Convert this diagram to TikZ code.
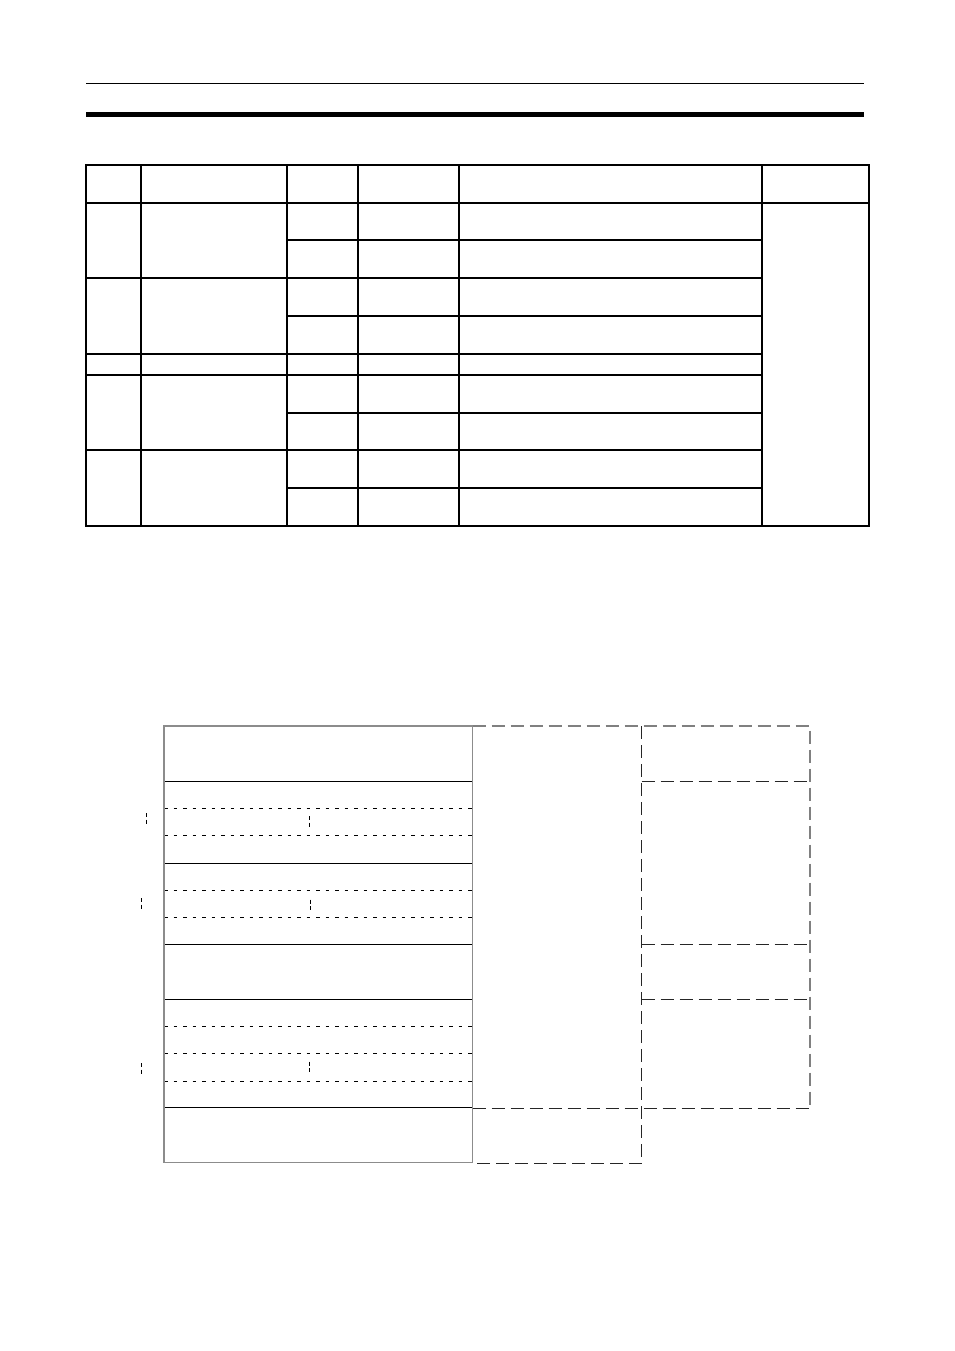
\documentclass[tikz,border=0pt]{standalone}
\usetikzlibrary{calc}
\tikzstyle{every path}=[line cap=butt, line join=miter]
\tikzset{
  borde/.style={line width=2.6pt},
  linea/.style={line width=1.3pt},
  fina/.style={line width=0.9pt},
  punteada/.style={line width=0.9pt, dash pattern=on 3.5pt off 6pt},
  corte/.style={line width=0.9pt, dash pattern=on 4pt off 2.5pt},
  rayada/.style={line width=1pt, black!85, dash pattern=on 13pt off 6pt},
  rayadagris/.style={line width=1.1pt, black!50, dash pattern=on 13pt off 6pt},
  marco/.style={line width=1.3pt, black!45},
}
\begin{document}
\begin{tikzpicture}[x=1pt,y=-1pt]
        \useasboundingbox (0,0) rectangle (954,1351);
        %encabezado
        \draw[line width=1pt] (86,84) -- (864,84);
        \fill (86,112) rectangle (864,117);
        %tabla: columnas
        \foreach \x in {141,287,358,459,762}
            \draw[linea] (\x,165) -- (\x,526);
        %tabla: filas de grupo
        \foreach \y in {278,354,375,450}
            \draw[linea] (86,\y) -- (762,\y);
        %tabla: subfilas
        \foreach \y in {240,316,413,488}
            \draw[linea] (287,\y) -- (762,\y);
        \draw[borde] (86,203) -- (869,203);
        \draw[borde] (86,165) rectangle (869,526);
        %bloques solidos
        \foreach \y in {781,863,944,999,1107.5}
            \draw[fina] (164,\y) -- (472.5,\y);
        %lineas punteadas
        \foreach \y in {808,835,890,917,1026,1053,1081}
            \draw[punteada] (164,\y) -- (472.5,\y);
        %marcas de corte
        \draw[corte] (146.5,813) -- (146.5,824);
        \draw[corte] (309.7,816) -- (309.7,827);
        \draw[corte] (141.5,898) -- (141.5,909);
        \draw[corte] (310,899.5) -- (310,910.5);
        \draw[corte] (141.5,1063) -- (141.5,1074);
        \draw[corte] (309.7,1061.5) -- (309.7,1072.5);
        %marco
        \draw[marco] (164,726) rectangle (472.5,1162.5);
        %areas rayadas
        \draw[rayadagris] (472.5,726) -- (810,726) -- (810,1108);
        \draw[rayada] (641.5,726) -- (641.5,1163) -- (472.5,1163);
        \draw[rayada] (472.5,1108) -- (810,1108);
        \foreach \y in {781,944,999}
            \draw[rayada] (641.5,\y) -- (810,\y);
\end{tikzpicture}
\end{document}
